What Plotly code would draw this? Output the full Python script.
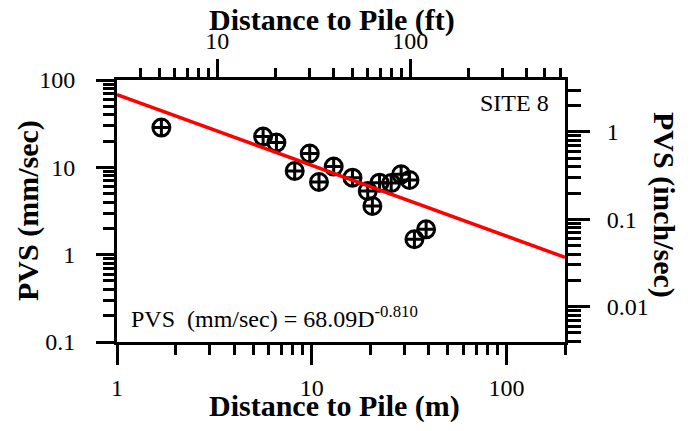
import math
import plotly.graph_objects as go

# ---- data ----
distance_m = [1.69, 5.63, 6.59, 8.18, 9.77, 10.9, 12.97, 16.2, 19.4, 20.5,
              22.3, 25.6, 28.8, 31.8, 33.7, 38.7]
pvs_mm_s = [28.5, 22.5, 19.2, 9.07, 14.4, 6.79, 10.2, 7.62, 5.36, 3.61,
            6.68, 6.6, 8.32, 7.16, 1.50, 1.95]

fit_a = 68.09
fit_b = -0.810
fit_x = [1, 200]

site_label = "SITE 8"
x_major = [1, 10, 100]
x_major_text = ["1", "10", "100"]
ft_major = [10, 100]
ft_major_text = ["10", "100"]
y_major = [0.1, 1, 10, 100]
y_major_text = ["0.1", "1", "10", "100"]
in_major = [0.01, 0.1, 1]
in_major_text = ["0.01", "0.1", "1"]

MM_PER_IN = 25.4

fit_y = [fit_a * x ** fit_b for x in fit_x]

FONT = "Liberation Serif"
OX, OY = 8, 8  # page body margin offset

def minors(decades, lo, hi):
    out = []
    for d in decades:
        for k in range(2, 10):
            v = k * d
            if lo <= v * 1.0000001 and v <= hi * 1.0000001:
                out.append(v)
    return out

fig = go.Figure()

fig.add_trace(go.Scatter(
    x=distance_m, y=pvs_mm_s, mode="markers",
    marker=dict(symbol="circle-cross-open", size=17, color="black",
                line=dict(width=3, color="black")),
    showlegend=False, xaxis="x", yaxis="y"))

fig.add_trace(go.Scatter(
    x=fit_x, y=fit_y, mode="lines",
    line=dict(color="#ff0000", width=3.5),
    showlegend=False, xaxis="x", yaxis="y"))

# invisible trace to activate secondary axes
fig.add_trace(go.Scatter(x=[10], y=[0.1], mode="markers", marker=dict(opacity=0),
                         showlegend=False, hoverinfo="skip", xaxis="x2", yaxis="y2"))

tickfont = dict(family=FONT, size=24, color="black")
common = dict(type="log", showgrid=False, zeroline=False, showline=True,
              linecolor="black", linewidth=3, ticks="outside", tickwidth=3,
              tickcolor="black", tickfont=tickfont, tickmode="array")

L, R, T, B = 117, 565, 80, 342  # plot area in window pixels

fig.update_layout(
    width=691 - OX, height=431 - OY,
    margin=dict(l=L - OX, r=691 - R, t=T - OY, b=431 - B),
    paper_bgcolor="white", plot_bgcolor="white",
    xaxis=dict(**common, range=[0, math.log10(200)], side="bottom",
               tickvals=x_major, ticktext=x_major_text, ticklen=20,
               ticklabelstandoff=2,
               minor=dict(tickmode="array", tickvals=minors([1, 10, 100], 1, 200),
                          ticks="outside", ticklen=10, tickwidth=3, tickcolor="black")),
    xaxis2=dict(**common, range=[0.48, 2.803], side="top", overlaying="x",
                tickvals=ft_major, ticktext=ft_major_text, ticklen=18,
                ticklabelstandoff=0,
                minor=dict(tickmode="array", tickvals=minors([1, 10, 100], 3, 640),
                           ticks="outside", ticklen=9, tickwidth=3, tickcolor="black")),
    yaxis=dict(**common, range=[-1, 2], side="left",
               tickvals=y_major, ticktext=y_major_text, ticklen=18,
               ticklabelstandoff=16,
               minor=dict(tickmode="array", tickvals=minors([0.1, 1, 10], 0.1, 100),
                          ticks="outside", ticklen=11, tickwidth=3, tickcolor="black")),
    yaxis2=dict(**common, range=[math.log10(0.1 / MM_PER_IN), math.log10(100 / MM_PER_IN)],
                side="right", overlaying="y",
                tickvals=in_major, ticktext=in_major_text, ticklen=22,
                ticklabelstandoff=12,
                minor=dict(tickmode="array",
                           tickvals=minors([0.001, 0.01, 0.1, 1], 0.1 / MM_PER_IN, 100 / MM_PER_IN),
                           ticks="outside", ticklen=13, tickwidth=3, tickcolor="black")),
)

def px_x(px):
    return (px - L) / float(R - L)

def px_y(py):
    return (B - py) / float(B - T)

titlefont = dict(family=FONT, size=30, color="black")
annots = [
    dict(text="<b>Distance to Pile (m)</b>", x=px_x(334), y=px_y(406), font=titlefont),
    dict(text="<b>Distance to Pile (ft)</b>", x=px_x(332), y=px_y(20), font=titlefont),
    dict(text="<b>PVS (mm/sec)</b>", x=px_x(28), y=px_y(211), font=titlefont, textangle=-90),
    dict(text="<b>PVS (inch/sec)</b>", x=px_x(664), y=px_y(205), font=titlefont, textangle=90),
    dict(text=site_label, x=px_x(551), y=px_y(103), xanchor="right",
         font=dict(family=FONT, size=24, color="black")),
    dict(text=f"PVS  (mm/sec) = {fit_a:.2f}D<sup>{fit_b:.3f}</sup>", x=px_x(129), y=px_y(317),
         xanchor="left", font=dict(family=FONT, size=24, color="black")),
]
for a in annots:
    a.setdefault("xanchor", "center")
    fig.add_annotation(xref="paper", yref="paper", showarrow=False, yanchor="middle", **a)

fig.write_html("out.html")
